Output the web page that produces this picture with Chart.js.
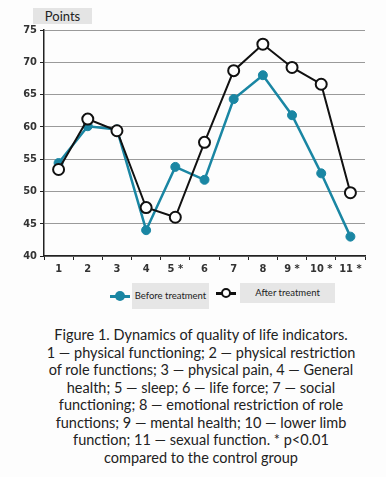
<!DOCTYPE html>
<html lang="en">
<head>
    <meta charset="UTF-8">
    <title>Quality of life indicators</title>
    <script src="https://cdn.jsdelivr.net/npm/chart.js"></script>
    <style>
        body {
            margin: 0;
            background: #fdfdfd;
            width: 386px;
            height: 477px;
            position: relative;
            overflow: hidden;
            font-family: Lato, 'Open Sans', sans-serif;
        }

        #chart-wrap {
            position: absolute;
            left: 0;
            top: 0;
            width: 386px;
            height: 278px;
        }

        .units {
            position: absolute;
            left: 33px;
            top: 8px;
            width: 59px;
            height: 16px;
            background: #e4e4e4;
            color: #222;
            font-size: 13px;
            line-height: 16px;
            text-align: center;
        }

        .legend-item {
            position: absolute;
            top: 283px;
            height: 26px;
        }

        .legend-box {
            position: absolute;
            background: #e6e6e6;
            color: #222;
            font-size: 9.5px;
            text-align: center;
        }

        .marker {
            position: absolute;
            width: 20px;
            height: 12px;
        }

        .marker .bar {
            position: absolute;
            left: 0;
            right: 0;
            top: 5px;
            height: 3px;
        }

        .marker .dot {
            position: absolute;
            left: 5px;
            top: 1px;
            width: 10px;
            height: 10px;
            border-radius: 50%;
            box-sizing: border-box;
        }

        .caption {
            position: absolute;
            left: 46px;
            top: 326px;
            width: 310px;
            text-align: center;
            color: #222;
            font-size: 14.5px;
            line-height: 17.5px;
        }
    </style>
</head>
<body>
    <div id="chart-wrap"><canvas id="qolChart"></canvas></div>
    <div class="units">Points</div>

    <div class="marker" style="left:110px; top:290px;">
        <div class="bar" style="background:#1a86a3;"></div>
        <div class="dot" style="background:#1a86a3;"></div>
    </div>
    <div class="legend-box" style="left:132px; top:283px; width:77px; height:26px; line-height:26px;">Before treatment</div>

    <div class="marker" style="left:216px; top:287px;">
        <div class="bar" style="background:#111;"></div>
        <div class="dot" style="background:#fff; border:2px solid #111;"></div>
    </div>
    <div class="legend-box" style="left:240px; top:283px; width:95px; height:20px; line-height:20px;">After treatment</div>

    <div class="caption">
        Figure 1. Dynamics of quality of life indicators.<br>
        1 — physical functioning; 2 — physical restriction<br>
        of role functions; 3 — physical pain, 4 — General<br>
        health; 5 — sleep; 6 — life force; 7 — social<br>
        functioning; 8 — emotional restriction of role<br>
        functions; 9 — mental health; 10 — lower limb<br>
        function; 11 — sexual function. * p&lt;0.01<br>
        compared to the control group
    </div>

    <script>
        const categories = ['1', '2', '3', '4', '5 *', '6', '7', '8', '9 *', '10 *', '11 *'];
        const beforeValues = [54.4, 60.1, 59.6, 44.0, 53.8, 51.8, 64.3, 68.0, 61.8, 52.8, 43.0];
        const afterValues = [53.4, 61.2, 59.4, 47.5, 46.0, 57.6, 68.7, 72.8, 69.2, 66.6, 49.8];
        const yTicks = [40, 45, 50, 55, 60, 65, 70, 75];

        const teal = '#1a86a3';
        const tickFont = {
            family: "'DejaVu Sans Condensed', 'Liberation Sans Narrow', 'DejaVu Sans', sans-serif",
            size: 11,
            weight: 'bold'
        };

        new Chart(document.getElementById('qolChart'), {
            type: 'line',
            data: {
                labels: categories,
                datasets: [
                    {
                        label: 'Before treatment',
                        data: beforeValues,
                        borderColor: teal,
                        backgroundColor: teal,
                        borderWidth: 2.5,
                        pointRadius: 4.5,
                        pointBackgroundColor: teal,
                        pointBorderColor: teal,
                        pointBorderWidth: 1,
                        tension: 0,
                        order: 2
                    },
                    {
                        label: 'After treatment',
                        data: afterValues,
                        borderColor: '#111',
                        backgroundColor: '#fff',
                        borderWidth: 2,
                        pointRadius: 5.5,
                        pointBackgroundColor: '#fff',
                        pointBorderColor: '#111',
                        pointBorderWidth: 2,
                        tension: 0,
                        order: 1
                    }
                ]
            },
            options: {
                responsive: true,
                maintainAspectRatio: false,
                animation: false,
                layout: {
                    padding: { top: 30, right: 21, left: 0, bottom: 0 }
                },
                plugins: {
                    legend: { display: false },
                    tooltip: { enabled: false }
                },
                scales: {
                    x: {
                        offset: true,
                        grid: {
                            offset: true,
                            drawOnChartArea: false,
                            drawTicks: true,
                            tickLength: 4,
                            color: '#222'
                        },
                        border: { color: '#222', width: 1.5 },
                        ticks: {
                            color: '#333',
                            font: tickFont,
                            padding: 3,
                            maxRotation: 0,
                            autoSkip: false
                        },
                        afterFit(scale) { scale.height = 22; }
                    },
                    y: {
                        min: 40,
                        max: 75,
                        afterBuildTicks(scale) {
                            scale.ticks = yTicks.map(v => ({ value: v }));
                        },
                        grid: {
                            color: '#9a9a9a',
                            lineWidth: 1,
                            tickLength: 4,
                            tickColor: '#222'
                        },
                        border: { color: '#222', width: 1.5 },
                        ticks: {
                            color: '#333',
                            font: tickFont,
                            padding: 3
                        },
                        afterFit(scale) { scale.width = 44; }
                    }
                }
            }
        });
    </script>
</body>
</html>
